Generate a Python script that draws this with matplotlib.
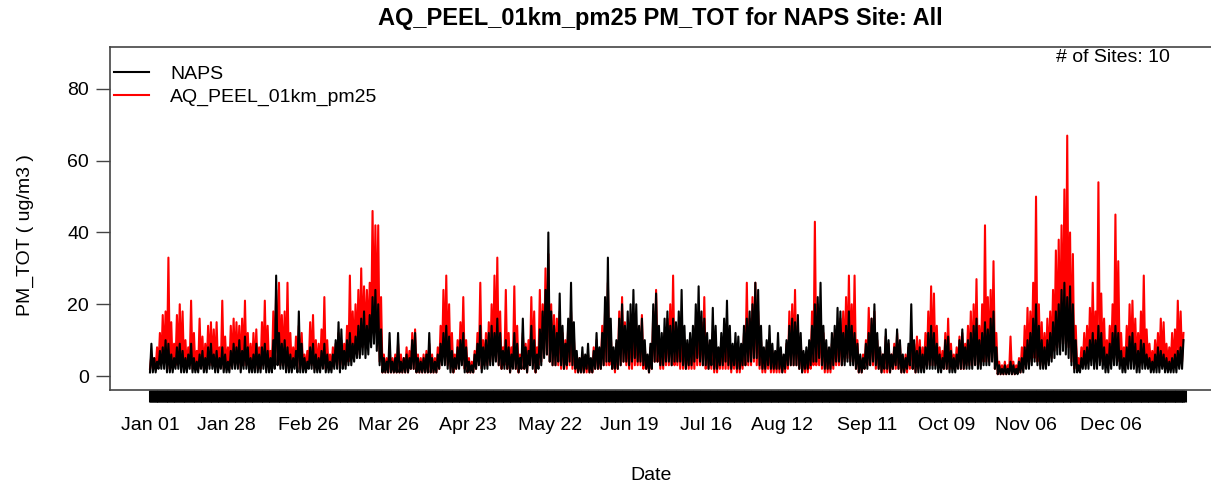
import numpy as np
import matplotlib
matplotlib.use("Agg")
import matplotlib.pyplot as plt

plt.rcParams['font.family'] = ['Liberation Sans', 'DejaVu Sans']

# daily high / low of hourly PM2.5 (ug/m3), one row per month
naps_hi = [
    9, 5, 4, 7, 8, 10, 9, 6, 5, 8, 9, 7, 5, 6, 9, 5, 4, 6, 7, 5, 8, 9, 6, 7, 5, 8, 6, 4, 7, 9, 8,
    10, 7, 11, 8, 5, 6, 9, 6, 8, 9, 7, 5, 10, 28, 12, 9, 10, 8, 6, 5, 7, 18, 9, 5, 4, 8, 9, 6,
    5, 7, 9, 6, 4, 6, 10, 15, 13, 7, 10, 12, 9, 11, 14, 16, 18, 14, 17, 22, 24, 20, 13, 5, 4, 12, 4, 5, 12, 4, 5,
    6, 5, 10, 12, 5, 4, 5, 6, 12, 5, 4, 6, 9, 12, 14, 11, 7, 5, 8, 10, 12, 8, 4, 3, 6, 9, 14, 8, 10, 12,
    14, 12, 16, 12, 7, 10, 8, 6, 12, 9, 5, 16, 8, 7, 14, 10, 6, 13, 18, 24, 40, 18, 14, 12, 23, 14, 9, 16, 26, 15, 7,
    5, 8, 6, 9, 5, 7, 12, 8, 12, 22, 33, 16, 8, 10, 16, 20, 14, 18, 20, 24, 20, 14, 16, 10, 6, 9, 20, 23, 14, 12,
    16, 18, 14, 16, 15, 18, 24, 14, 10, 12, 14, 20, 25, 18, 16, 12, 10, 19, 14, 8, 12, 16, 21, 14, 9, 12, 11, 9, 14, 16, 18,
    20, 26, 24, 14, 8, 10, 14, 9, 7, 12, 8, 6, 10, 14, 16, 15, 17, 12, 7, 8, 10, 14, 20, 22, 26, 14, 10, 8, 12, 14, 19,
    18, 12, 14, 18, 14, 12, 9, 6, 5, 9, 12, 16, 20, 12, 8, 6, 13, 10, 6, 8, 13, 10, 6, 5, 9, 20, 10, 7, 8, 6,
    8, 12, 14, 12, 9, 6, 5, 10, 11, 7, 5, 6, 10, 13, 8, 10, 12, 14, 16, 10, 12, 15, 13, 16, 18, 8, 3, 2, 3, 2, 4,
    3, 2, 4, 5, 8, 10, 12, 16, 20, 14, 10, 8, 10, 12, 15, 18, 20, 24, 26, 22, 25, 20, 10, 3, 5, 7, 8, 10, 12, 10,
    14, 12, 8, 6, 9, 12, 14, 12, 7, 5, 8, 11, 12, 9, 7, 10, 9, 6, 5, 4, 6, 8, 7, 6, 5, 4, 5, 6, 7, 8, 10,
]
naps_lo = [
    1, 1, 1, 2, 2, 2, 1, 1, 1, 2, 2, 1, 1, 1, 2, 1, 1, 1, 2, 1, 1, 2, 2, 1, 1, 2, 1, 1, 1, 2, 2,
    2, 1, 2, 2, 1, 1, 1, 1, 1, 2, 1, 1, 1, 2, 3, 2, 2, 1, 1, 1, 2, 1, 1, 1, 1, 2, 2, 1,
    1, 1, 2, 1, 1, 1, 2, 2, 1, 2, 2, 3, 3, 4, 5, 5, 6, 5, 6, 8, 9, 7, 3, 1, 1, 1, 1, 1, 1, 1, 1,
    1, 1, 2, 2, 1, 1, 1, 1, 1, 1, 1, 1, 2, 3, 3, 2, 1, 1, 2, 2, 3, 1, 1, 1, 1, 2, 3, 1, 2, 2,
    3, 3, 4, 3, 2, 2, 2, 1, 2, 2, 1, 2, 2, 1, 3, 2, 1, 2, 3, 5, 6, 4, 3, 3, 4, 3, 2, 3, 4, 3, 2,
    1, 1, 1, 2, 1, 1, 2, 2, 2, 3, 4, 4, 2, 2, 2, 3, 4, 4, 3, 4, 5, 4, 4, 3, 2, 1, 2, 4, 4, 3,
    3, 4, 4, 3, 4, 4, 4, 3, 2, 3, 3, 4, 5, 4, 3, 3, 2, 3, 2, 2, 3, 3, 4, 3, 2, 3, 2, 2, 3, 3, 4,
    4, 5, 5, 3, 2, 2, 3, 2, 2, 2, 2, 1, 2, 3, 3, 3, 3, 2, 1, 2, 2, 3, 4, 4, 5, 3, 2, 2, 2, 3, 4,
    4, 3, 3, 4, 3, 3, 2, 1, 1, 2, 2, 3, 4, 3, 2, 1, 2, 2, 1, 2, 3, 2, 1, 1, 2, 3, 2, 1, 1, 1,
    1, 2, 2, 2, 2, 1, 1, 2, 2, 1, 1, 1, 2, 2, 2, 2, 2, 2, 3, 2, 2, 3, 3, 3, 4, 2, 0.5, 0.5, 0.5, 0.5, 0.5,
    0.5, 0.5, 0.5, 1, 1, 2, 2, 3, 4, 3, 2, 2, 2, 3, 4, 5, 6, 6, 7, 6, 5, 3, 1, 1, 1, 2, 2, 2, 3, 2,
    2, 3, 2, 1, 1, 2, 3, 3, 2, 1, 1, 2, 2, 2, 1, 1, 2, 2, 2, 1, 1, 1, 1, 2, 1, 1, 1, 1, 1, 2, 2,
]
aq_hi = [
    6, 5, 8, 12, 17, 18, 33, 15, 9, 17, 20, 18, 10, 8, 21, 12, 7, 16, 11, 9, 14, 15, 13, 15, 8, 21, 11, 8, 14, 16, 15,
    14, 16, 21, 12, 9, 12, 13, 8, 15, 21, 14, 7, 18, 24, 26, 17, 18, 26, 12, 8, 11, 14, 12, 6, 7, 15, 17, 10,
    9, 13, 22, 10, 6, 8, 9, 12, 10, 9, 14, 28, 18, 20, 24, 30, 25, 24, 26, 46, 42, 42, 22, 6, 5, 8, 5, 6, 9, 6, 5,
    8, 7, 12, 13, 6, 5, 6, 7, 9, 6, 5, 8, 14, 24, 28, 20, 12, 6, 10, 15, 22, 10, 5, 4, 7, 12, 26, 10, 12, 15,
    20, 28, 33, 18, 8, 24, 12, 8, 25, 14, 6, 12, 9, 10, 22, 18, 8, 24, 20, 30, 34, 20, 17, 16, 18, 12, 10, 14, 18, 11, 6,
    5, 6, 5, 6, 4, 8, 10, 7, 14, 18, 26, 12, 6, 9, 18, 22, 15, 12, 14, 16, 14, 12, 17, 8, 5, 8, 18, 24, 10, 9,
    12, 16, 20, 28, 13, 14, 12, 10, 9, 8, 10, 14, 16, 15, 22, 10, 8, 12, 8, 7, 10, 12, 14, 10, 7, 9, 8, 7, 12, 26, 16,
    22, 26, 18, 10, 7, 8, 10, 7, 6, 8, 7, 5, 9, 18, 20, 24, 14, 10, 6, 6, 8, 18, 43, 20, 18, 12, 8, 6, 9, 12, 14,
    16, 18, 22, 28, 20, 28, 10, 5, 6, 10, 19, 16, 18, 10, 7, 6, 11, 9, 6, 9, 12, 9, 5, 6, 8, 12, 9, 11, 10, 8,
    12, 18, 25, 23, 14, 8, 7, 12, 16, 9, 6, 8, 11, 12, 9, 14, 18, 20, 27, 14, 20, 42, 22, 24, 32, 12, 4, 3, 4, 3, 11,
    4, 3, 5, 8, 14, 19, 18, 26, 50, 20, 15, 12, 16, 18, 24, 35, 38, 42, 52, 67, 40, 34, 14, 5, 8, 12, 14, 19, 26, 18,
    54, 23, 16, 10, 14, 20, 45, 32, 12, 8, 14, 20, 21, 16, 12, 18, 28, 13, 9, 7, 10, 12, 16, 15, 9, 8, 12, 13, 21, 18, 12,
]
aq_lo = [
    2, 2, 2, 3, 4, 4, 3, 2, 2, 3, 4, 3, 2, 2, 3, 2, 2, 2, 3, 2, 2, 3, 3, 2, 2, 3, 2, 2, 2, 3, 3,
    3, 2, 3, 3, 2, 2, 2, 2, 2, 3, 2, 2, 2, 3, 4, 3, 3, 2, 2, 2, 3, 2, 2, 2, 2, 3, 3, 2,
    2, 2, 3, 2, 2, 2, 3, 3, 2, 3, 3, 4, 5, 6, 7, 6, 8, 9, 10, 12, 14, 12, 4, 1, 1, 1, 1, 1, 1, 1, 1,
    1, 1, 2, 2, 1, 1, 1, 1, 1, 1, 1, 1, 2, 4, 5, 3, 2, 1, 2, 3, 4, 2, 1, 1, 1, 2, 4, 2, 3, 3,
    4, 4, 5, 3, 2, 3, 2, 1, 3, 2, 1, 2, 2, 1, 4, 3, 1, 3, 4, 6, 6, 4, 3, 3, 3, 2, 2, 2, 3, 2, 1,
    1, 1, 1, 1, 1, 1, 2, 2, 2, 3, 3, 3, 2, 1, 2, 3, 4, 3, 2, 2, 3, 3, 3, 2, 2, 1, 2, 4, 4, 2,
    2, 3, 3, 3, 3, 3, 2, 2, 2, 2, 2, 2, 3, 3, 3, 2, 2, 2, 1, 1, 2, 2, 2, 2, 1, 2, 1, 1, 2, 3, 3,
    3, 4, 3, 2, 1, 1, 2, 1, 1, 1, 1, 1, 1, 2, 3, 3, 3, 2, 1, 1, 1, 2, 3, 3, 3, 2, 1, 1, 1, 2, 3,
    3, 3, 4, 5, 4, 4, 2, 1, 1, 2, 3, 3, 3, 2, 2, 1, 1, 1, 1, 2, 2, 2, 1, 1, 1, 2, 2, 1, 2, 2,
    2, 3, 3, 3, 3, 2, 2, 2, 2, 2, 2, 2, 3, 2, 2, 3, 3, 3, 4, 3, 3, 4, 4, 4, 5, 2, 0.5, 0.5, 0.5, 0.5, 1,
    0.5, 0.5, 1, 1, 2, 3, 3, 4, 5, 4, 3, 3, 3, 4, 5, 7, 8, 9, 10, 9, 8, 4, 2, 2, 2, 3, 3, 4, 5, 4,
    4, 5, 4, 3, 3, 4, 5, 5, 4, 3, 3, 4, 4, 4, 3, 3, 4, 4, 4, 3, 3, 3, 3, 4, 3, 3, 3, 3, 3, 4, 4,
]

tick_days = [0, 27, 56, 84, 112, 141, 169, 196, 223, 253, 281, 309, 339]
tick_labels = ['Jan 01', 'Jan 28', 'Feb 26', 'Mar 26', 'Apr 23', 'May 22', 'Jun 19',
               'Jul 16', 'Aug 12', 'Sep 11', 'Oct 09', 'Nov 06', 'Dec 06']
n_sites = 10

days = np.arange(len(naps_hi))
# low in the morning, high half a day later
x = (days[:, None] + np.array([0.0, 0.5])).ravel()
naps_y = np.column_stack([naps_lo, naps_hi]).ravel()
aq_y = np.column_stack([aq_lo, aq_hi]).ravel()

W, H = 1211, 487
fig = plt.figure(figsize=(W / 100, H / 100), dpi=100)
ax = fig.add_axes([110 / W, 97 / H, 1116 / W, 343 / H])

ax.plot(x, aq_y, color='red', lw=1.5, label='AQ_PEEL_01km_pm25')
ax.plot(x, naps_y, color='black', lw=1.5, label='NAPS')

ax.set_xlim(-14.1, 379.5)
ax.set_ylim(-3.9, 91.7)

for s in ax.spines.values():
    s.set_color('#444444')
    s.set_linewidth(1.2)

ax.set_yticks([0, 20, 40, 60, 80])
ax.tick_params(axis='y', length=10, width=1, color='#444444', labelsize=14, pad=5)

# hourly-style axis: dense ticks, thick enough to merge into a solid bar
ax.set_xticks(tick_days)
ax.set_xticklabels(tick_labels)
ax.set_xticks(np.arange(0, 365.01, 0.5), minor=True)
ax.tick_params(axis='x', which='both', length=8.6, width=2.2, color='black',
               labelsize=14, pad=11)

h, l = ax.get_legend_handles_labels()
ax.legend(h[::-1], l[::-1], loc='upper left', bbox_to_anchor=(114 / W, 1 - 65 / H),
          bbox_transform=fig.transFigure, frameon=False, fontsize=14,
          handlelength=1.8, handletextpad=1.1, labelspacing=0.3,
          borderpad=0, borderaxespad=0)

fig.text(1170 / W, 1 - 58 / H, '# of Sites: %d' % n_sites, ha='right', va='center', fontsize=14)
fig.text(660 / W, 1 - 18 / H, 'AQ_PEEL_01km_pm25 PM_TOT for NAPS Site: All',
         ha='center', va='center', fontsize=17, fontweight='bold')
fig.text(651 / W, 1 - 475 / H, 'Date', ha='center', va='center', fontsize=14)
fig.text(25 / W, 1 - 235 / H, 'PM_TOT ( ug/m3 )', rotation=90, ha='center', va='center', fontsize=14)

fig.savefig('out.png', dpi=100)
